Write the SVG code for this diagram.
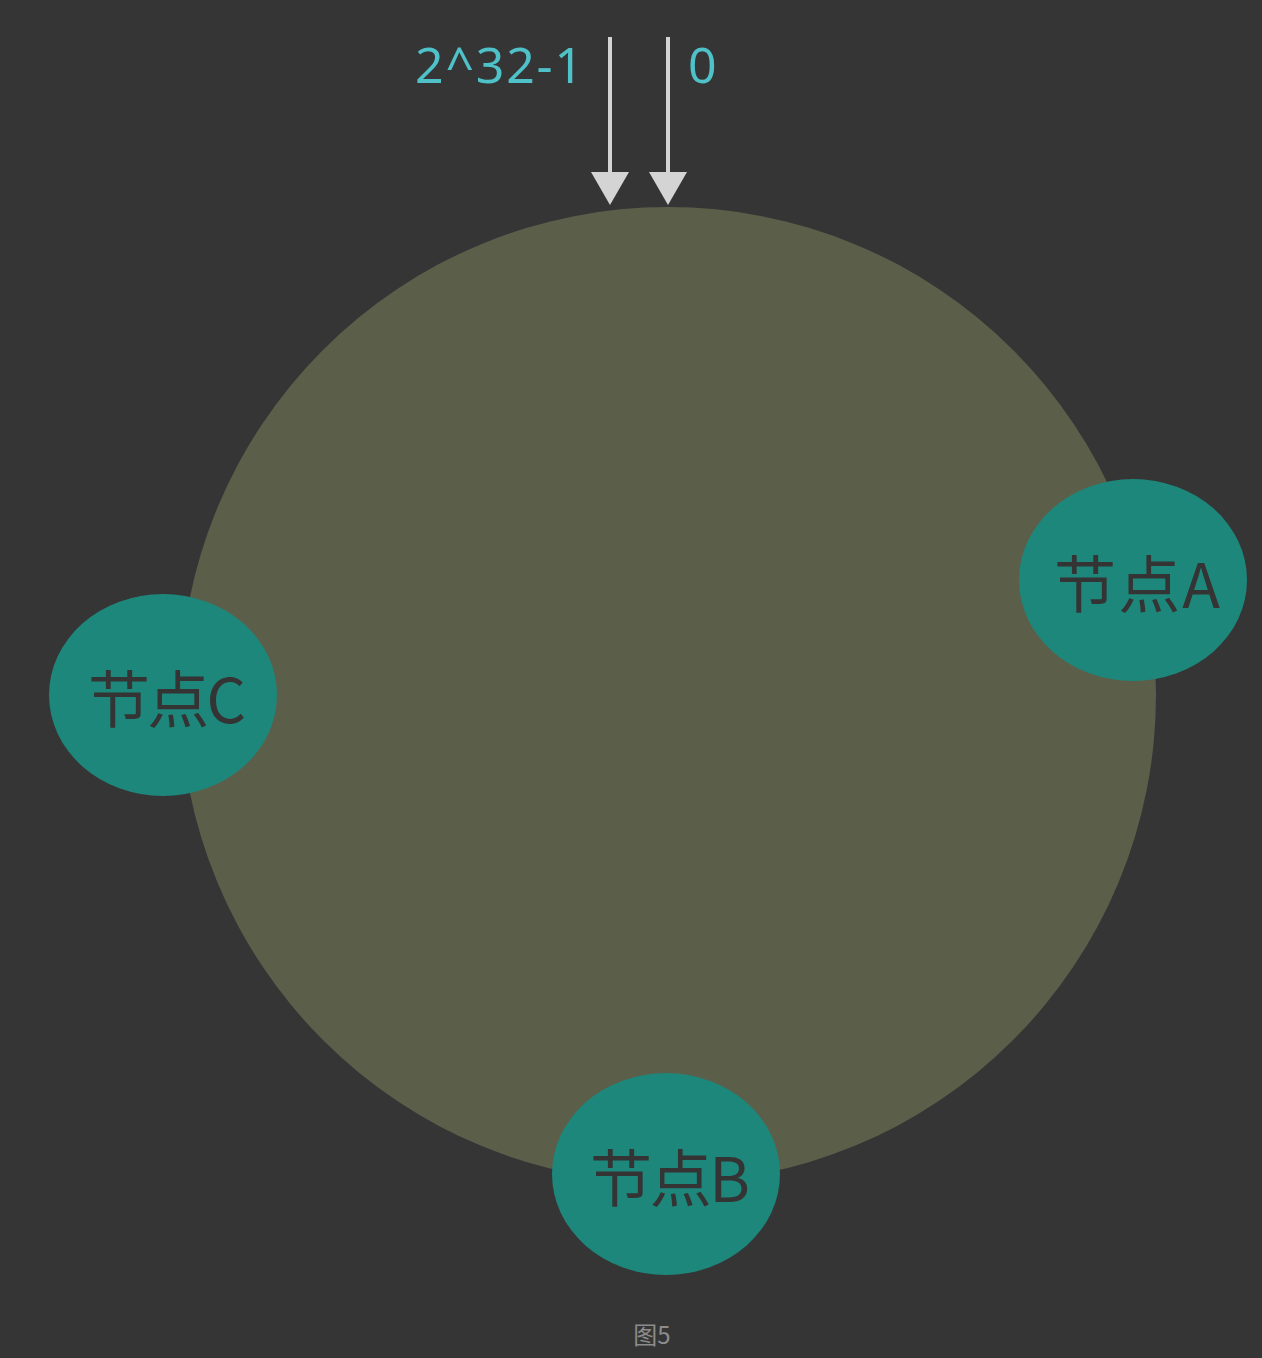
<svg xmlns="http://www.w3.org/2000/svg" width="1262" height="1358" viewBox="0 0 1262 1358">
<defs>
<style>
.node{fill:#1e877b}
.nlabel{font-family:"Comic Sans MS","Noto Sans CJK SC","Noto Sans",sans-serif;font-size:62px;fill:#343434;text-anchor:middle}
.num{font-family:"Comic Sans MS","Noto Sans",sans-serif;font-size:50px;fill:#4fc1c8}
.conn{stroke:#d4d4d4;stroke-width:4;fill:none}
.head{fill:#d4d4d4}
</style>
</defs>
<rect width="1262" height="1358" fill="#353535"/>
<g id="ring"><circle cx="668" cy="695" r="488" fill="#5b5f4a"/></g>
<g id="connectors">
<line class="conn" x1="610" y1="37" x2="610" y2="172"/>
<path class="head" d="M591,172 L629,172 L610,205 Z"/>
<line class="conn" x1="668" y1="37" x2="668" y2="172"/>
<path class="head" d="M649,172 L687,172 L668,205 Z"/>
</g>
<g id="label-max"><text class="num" x="415" y="83" textLength="168">2^32-1</text></g>
<g id="label-zero"><text class="num" x="688" y="83">0</text></g>
<g id="nodeA"><ellipse class="node" cx="1133" cy="580" rx="114" ry="101"/><text class="nlabel" x="1137" y="608" textLength="166">节点A</text></g>
<g id="nodeC"><ellipse class="node" cx="163" cy="695" rx="114" ry="101"/><text class="nlabel" x="167" y="723" textLength="158">节点C</text></g>
<g id="nodeB"><ellipse class="node" cx="666" cy="1174" rx="114" ry="101"/><text class="nlabel" x="670" y="1202" textLength="160">节点B</text></g>
<g id="caption"><text x="652" y="1344" font-family="'Noto Sans CJK SC','Noto Sans',sans-serif" font-size="24" fill="#8c8c8c" text-anchor="middle">图5</text></g>
</svg>
